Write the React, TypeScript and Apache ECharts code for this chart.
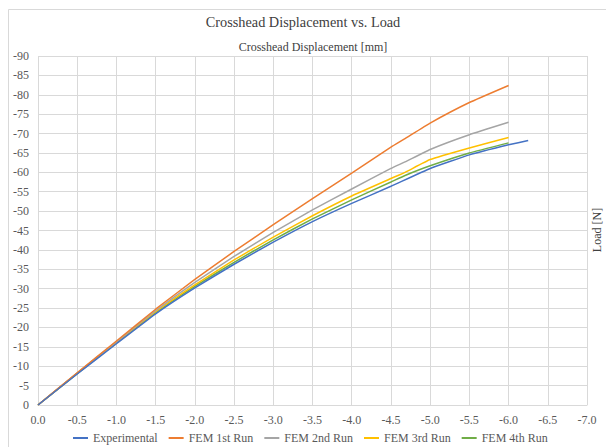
import React, { useEffect, useRef } from "react";
import * as echarts from "echarts";

const seriesNames = ["Experimental", "FEM 1st Run", "FEM 2nd Run", "FEM 3rd Run", "FEM 4th Run"];
const seriesColors = ["#4472C4", "#ED7D31", "#A5A5A5", "#FFC000", "#70AD47"];

const expDisp = [0, -0.5, -1.0, -1.5, -2.0, -2.5, -3.0, -3.5, -4.0, -4.5, -5.0, -5.5, -6.0, -6.25];
const expLoad = [0, -8.0, -15.8, -23.5, -30.2, -36.3, -42.0, -47.3, -52.0, -56.4, -61.0, -64.5, -67.1, -68.2];

const femDisp = [0, -0.5, -1.0, -1.5, -2.0, -2.5, -3.0, -3.5, -4.0, -4.5, -4.68, -5.0, -5.5, -6.0];
const fem1Load = [0, -8.3, -16.5, -24.7, -32.4, -39.6, -46.5, -53.2, -59.8, -66.5, -68.7, -72.7, -78.0, -82.4];
const fem2Load = [0, -8.2, -16.3, -24.3, -31.6, -38.3, -44.5, -50.3, -55.7, -61.0, -62.7, -65.9, -69.7, -72.9];
const fem3Load = [0, -8.2, -16.2, -24.1, -31.0, -37.4, -43.3, -48.8, -53.9, -58.4, -60.0, -63.3, -66.3, -69.0];
const fem4Load = [0, -8.1, -16.0, -23.8, -30.6, -36.8, -42.6, -48.0, -52.9, -57.5, -59.2, -61.7, -65.0, -67.6];

const xTicks = { min: -7, max: 0, interval: 0.5 };
const yTicks = { min: -90, max: 0, interval: 5 };

const FONT = "Liberation Serif";

function pairs(xs: number[], ys: number[]) {
  return xs.map((x, i) => [x, ys[i]]);
}

export default function App() {
  const ref = useRef<HTMLDivElement>(null);
  useEffect(() => {
    document.body.style.margin = "0";
    const chart = echarts.init(ref.current!, null, { renderer: "svg" });
    const loads = [expLoad, fem1Load, fem2Load, fem3Load, fem4Load];
    const disps = [expDisp, femDisp, femDisp, femDisp, femDisp];
    chart.setOption({
      animation: false,
      backgroundColor: "#ffffff",
      textStyle: { fontFamily: FONT },
      title: {
        text: "Crosshead Displacement vs. Load",
        left: "center",
        top: 15,
        padding: 0,
        textStyle: { fontFamily: FONT, fontSize: 14.3, fontWeight: "normal", color: "#404040" },
      },
      legend: {
        bottom: 3,
        left: 73,
        padding: 0,
        icon: "rect",
        itemWidth: 15,
        itemHeight: 2,
        itemGap: 11,
        textStyle: { fontFamily: FONT, fontSize: 12, fontWeight: "normal", color: "#595959" },
        data: seriesNames,
      },
      grid: { left: 38, right: 19, top: 56, bottom: 42 },
      xAxis: {
        type: "value",
        min: xTicks.min,
        max: xTicks.max,
        interval: xTicks.interval,
        inverse: true,
        axisLine: { show: true, lineStyle: { color: "#d9d9d9" } },
        axisTick: { show: false },
        splitLine: { show: true, lineStyle: { color: "#d9d9d9" } },
        axisLabel: {
          fontFamily: FONT,
          fontSize: 12,
          fontWeight: "normal",
          color: "#595959",
          margin: 9,
          formatter: (v: number) => (v === 0 ? "0.0" : v.toFixed(1)),
        },
      },
      yAxis: {
        type: "value",
        min: yTicks.min,
        max: yTicks.max,
        interval: yTicks.interval,
        inverse: true,
        axisLine: { show: false },
        axisTick: { show: false },
        splitLine: { show: true, lineStyle: { color: "#d9d9d9" } },
        axisLabel: {
          fontFamily: FONT,
          fontSize: 12,
          fontWeight: "normal",
          color: "#595959",
          margin: 9,
          formatter: (v: number) => (v === 0 ? "0" : String(v)),
        },
      },
      graphic: [
        {
          type: "rect",
          shape: { x: 8.5, y: 9.5, width: 700, height: 500 },
          style: { fill: "none", stroke: "#d9d9d9", lineWidth: 1 },
          silent: true,
        },
        {
          type: "text",
          x: 313,
          y: 47,
          style: {
            text: "Crosshead Displacement [mm]",
            fontFamily: FONT,
            fontSize: 12,
            fill: "#404040",
            align: "center",
            verticalAlign: "middle",
          },
        },
        {
          type: "text",
          x: 597,
          y: 230,
          rotation: Math.PI / 2,
          style: {
            text: "Load [N]",
            fontFamily: FONT,
            fontSize: 12,
            fill: "#404040",
            align: "center",
            verticalAlign: "middle",
          },
        },
      ],
      series: seriesNames.map((name, i) => ({
        name,
        type: "line",
        data: pairs(disps[i], loads[i]),
        showSymbol: false,
        symbol: "none",
        smooth: 0.12,
        lineStyle: { color: seriesColors[i], width: 1.5 },
        itemStyle: { color: seriesColors[i] },
        z: 10 - i,
      })),
    });
    return () => chart.dispose();
  }, []);
  return (
    <div
      ref={ref}
      style={{ position: "absolute", left: 0, top: 0, width: 606, height: 447 }}
    />
  );
}
